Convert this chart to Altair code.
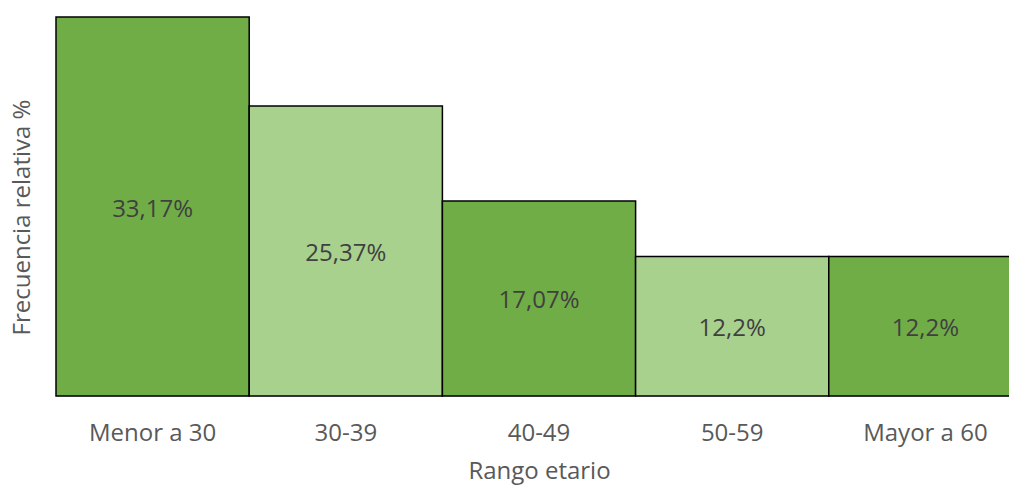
import altair as alt
import pandas as pd

categories = ["Menor a 30", "30-39", "40-49", "50-59", "Mayor a 60"]
values = [33.17, 25.37, 17.07, 12.2, 12.2]
shades = ["oscuro", "claro", "oscuro", "claro", "oscuro"]

df = pd.DataFrame({"rango": categories, "valor": values, "tono": shades})
df["etiqueta"] = [f"{v:g}".replace(".", ",") + "%" for v in values]
df["mitad"] = df["valor"] / 2

FONT = "Open Sans"
FS = 24

xscale = alt.Scale(paddingInner=0, paddingOuter=0, range=[0, 966])

x = alt.X("rango:N", sort=categories, title="Rango etario", scale=xscale,
          axis=alt.Axis(labelAngle=0, ticks=False, labelPadding=25, labelFontSize=FS,
                        labelColor="#595959", labelFont=FONT, titleFont=FONT,
                        titleFontSize=FS, titleColor="#595959", titleFontWeight="normal",
                        titlePadding=14, domainColor="#d9d9d9", domainWidth=1))

bars = alt.Chart(df).mark_bar(stroke="black", strokeWidth=1.5).encode(
    x=x,
    y=alt.Y("valor:Q", scale=alt.Scale(domain=[0, 33.17], nice=False, zero=True),
            title="Frecuencia relativa %",
            axis=alt.Axis(labels=False, ticks=False, domain=False, grid=False,
                          titleFont=FONT, titleFontSize=FS, titleColor="#595959",
                          titleFontWeight="normal", titlePadding=22, titleY=200)),
    color=alt.Color("tono:N", scale=alt.Scale(domain=["oscuro", "claro"],
                                              range=["#70AD47", "#A9D18E"]), legend=None),
)

text = alt.Chart(df).mark_text(font=FONT, fontSize=FS, color="#404040", dy=3).encode(
    x=alt.X("rango:N", sort=categories),
    y=alt.Y("mitad:Q"),
    text="etiqueta:N",
)

chart = (bars + text).properties(
    width=952, height=379,
    autosize=alt.AutoSizeParams(type="none"),
    padding={"left": 56, "top": 17, "right": 1, "bottom": 90},
).configure_view(stroke=None).configure_axis(grid=False)

chart.save("out.html", embed_options={"renderer": "svg", "actions": False})
